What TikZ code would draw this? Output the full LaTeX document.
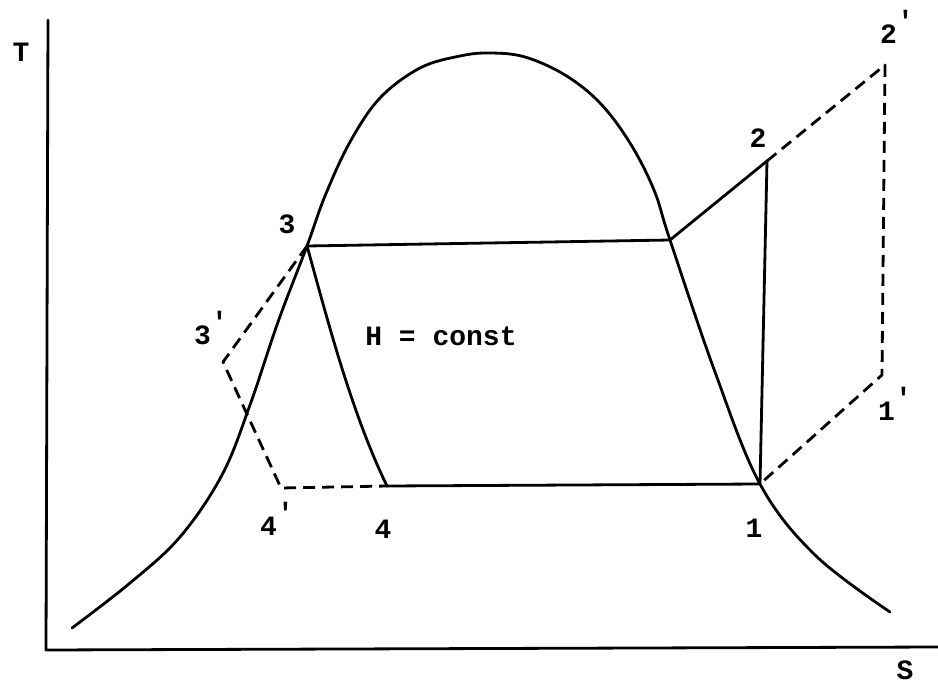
\documentclass[tikz,border=0pt]{standalone}
\usepackage{fontspec}
\setmonofont{Liberation Mono}
\begin{document}
\begin{tikzpicture}[x=1pt,y=-1pt,
  curve/.style={line width=2.8pt, line cap=round, line join=round},
  dsh/.style={curve, line cap=butt, dash pattern=on 12pt off 7pt},
  lbl/.style={font=\fontsize{28}{32}\selectfont\ttfamily\bfseries, inner sep=0pt}]
\useasboundingbox (0,0) rectangle (938,688);
% axes
\coordinate (top) at (48,20);
\coordinate (org) at (46,650);
\coordinate (rgt) at (938,647);
\draw[curve] (top) -- (org) -- (rgt);
\node[lbl] (T) at (21,52) {T};
\node[lbl] (S) at (905,670) {S};
% state points
\coordinate (p1) at (760,484);
\coordinate (p2) at (767,161);
\coordinate (p3) at (307,246);
\coordinate (p4) at (387,486);
\coordinate (j) at (670,240);
\coordinate (p1p) at (882,375);
\coordinate (p2p) at (885,65);
\coordinate (p3p) at (223,362);
\coordinate (p4p) at (281,488);
% saturation dome
\draw[curve] plot[smooth, tension=0.6] coordinates {(72,628) (130,583) (180,537) (222,475) (250,405) (278,322) (307,246) (325,196) (350,142) (380,98) (420,68) (460,56) (490,53) (525,57) (565,75) (600,103) (630,143) (654,190) (670,240) (715,372) (760,484) (815,555) (890,612)};
% solid cycle
\draw[curve] (p3) -- (j) -- (p2) -- (p1) -- (p4);
\draw[curve] (p3) .. controls (325,310) and (350,410) .. (p4);
% dashed cycle
\draw[dsh] (p3) -- (p3p) -- (p4p) -- (p4);
\draw[dsh] (p2) -- (p2p) -- (p1p) -- (p1);
% labels
\node[lbl] (l1) at (754,528) {1};
\node[lbl] (l2) at (758,138) {2};
\node[lbl] (l3) at (287,224) {3};
\node[lbl] (l4) at (383,529) {4};
\node[lbl] (l1p) at (895,404) {1\raisebox{0.45em}{'}};
\node[lbl] (l2p) at (897,27) {2\raisebox{0.45em}{'}};
\node[lbl] (l3p) at (211,328) {3\raisebox{0.45em}{'}};
\node[lbl] (l4p) at (277,519) {4\raisebox{0.45em}{'}};
\node[lbl] (h) at (441,336) {H = const};
\end{tikzpicture}
\end{document}
